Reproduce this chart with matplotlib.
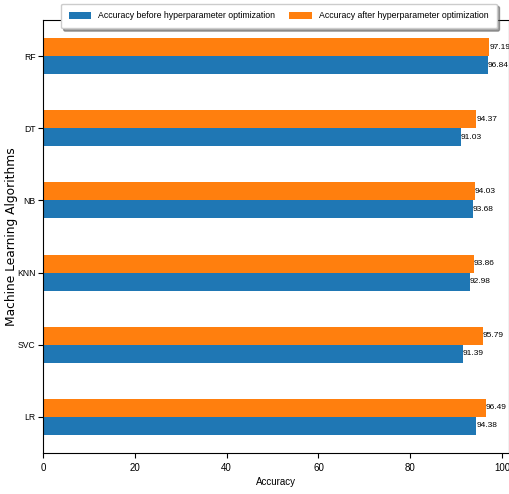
import numpy as np
import pandas as pd
import matplotlib
matplotlib.use("Agg")
import matplotlib.pyplot as plt
from matplotlib import font_manager

algoritmos = ["LR", "SVC", "KNN", "NB", "DT", "RF"]
antes = [94.38, 91.39, 92.98, 93.68, 91.03, 96.84]
despues = [96.49, 95.79, 93.86, 94.03, 94.37, 97.19]
etiquetas_x = [0, 20, 40, 60, 80, 100]

fp = dict(family="Liberation Sans")

df = pd.DataFrame({
    "Accuracy before hyperparameter optimization": antes,
    "Accuracy after hyperparameter optimization": despues,
}, index=algoritmos)

fig = plt.figure(figsize=(5.09, 4.94), dpi=100)
ax = fig.add_axes([0.0845, 0.083, 0.9155, 0.8765])
df.plot(kind="barh", ax=ax, color=["#1f77b4", "#ff7f0e"], width=0.5, legend=False)

for cont in ax.containers:
    for rect in cont:
        w = rect.get_width()
        ax.text(w, rect.get_y() + rect.get_height() / 2, f"{w:.2f}",
                ha="left", va="center", fontsize=6.0, **fp)

ax.set_xlim(0, 101.5)
ax.set_xticks(etiquetas_x)
ax.set_xticklabels([str(v) for v in etiquetas_x], fontsize=7, **fp)
ax.set_yticklabels(algoritmos, fontsize=6.2, **fp)
ax.tick_params(axis="y", pad=2)
ax.set_xlabel("Accuracy", fontsize=7, labelpad=3, **fp)
ax.set_ylabel("Machine Learning Algorithms", fontsize=8.8)
ax.yaxis.set_label_coords(-0.053, 0.5)

leg = ax.legend(loc="upper center", bbox_to_anchor=(0.506, 1.048), ncol=2,
                prop=font_manager.FontProperties(size=6.3, **fp),
                fancybox=True, shadow=True,
                handlelength=2.6, handleheight=0.9, columnspacing=1.6,
                borderpad=0.9)

fig.savefig("out.png", dpi=100)
